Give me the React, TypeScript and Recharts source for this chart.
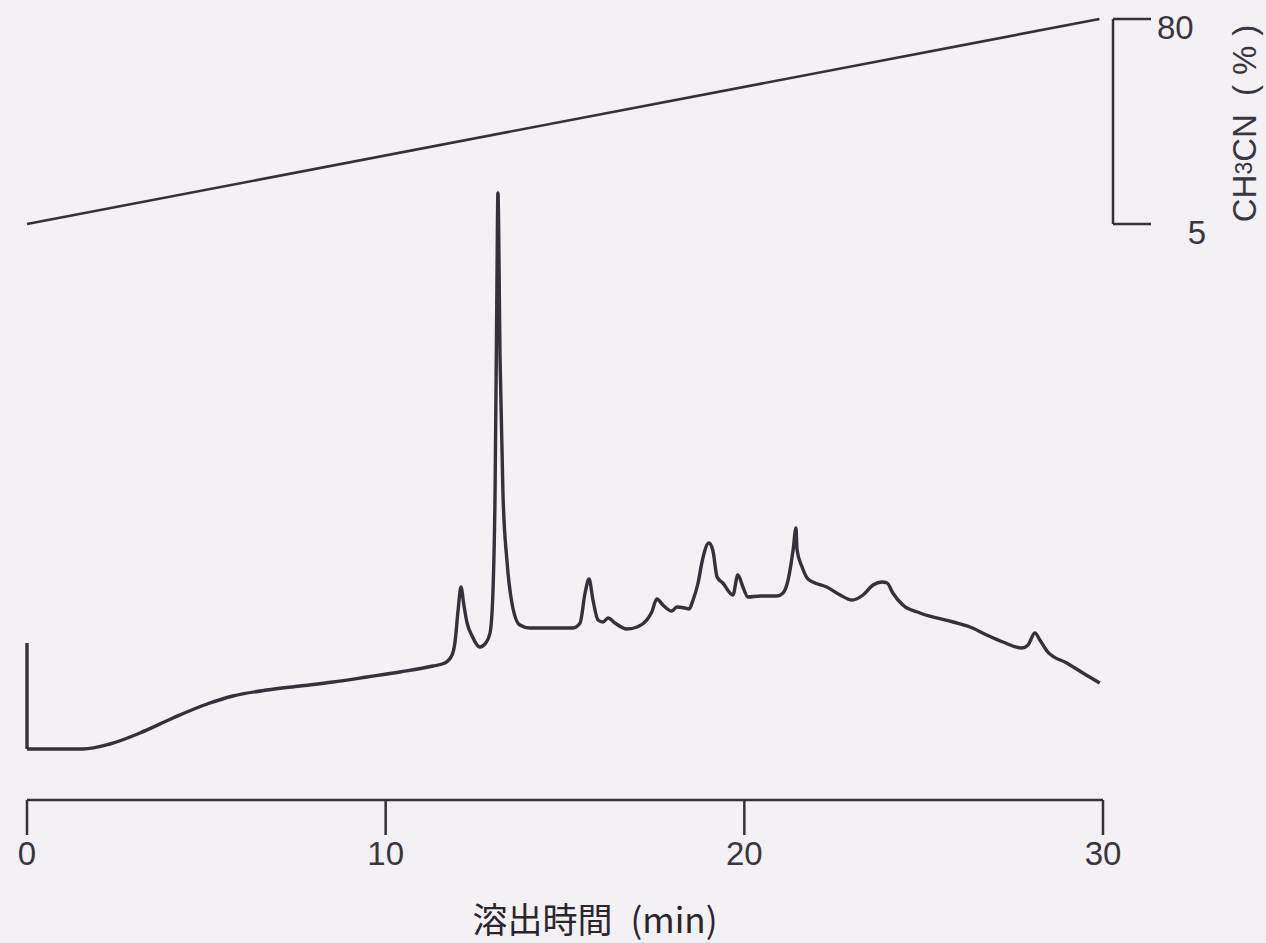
import React from 'react';
import { LineChart, Line, XAxis, YAxis, Label } from 'recharts';

// Elution time axis
const timeTicks = [0, 10, 20, 30];
const timeLabelMain = '溶出時間';
const timeLabelUnit = '(min)';

// CH3CN gradient (%)
const gradientTicks = [5, 80];
const gradientTime = [0, 29.9];
const gradientPct = [5, 80];

// Injection marker at t = 0 (vertical pen stroke)
const injectTime = [0, 0];
const injectSignal = [15.7, 5.1];

// Chromatogram trace (detector signal, arbitrary units)
const chromTime = [
  0, 1.56, 2.31, 3.15, 4.07, 5.02, 5.74, 6.69, 7.61, 8.53, 9.48, 10.4, 11.32, 11.65, 11.85, 11.93, 12.02,
  12.1, 12.18, 12.27, 12.41, 12.63, 12.79, 12.91, 12.99, 13.05, 13.1, 13.13, 13.19, 13.27, 13.38, 13.52,
  13.74, 14.02, 15.22, 15.42, 15.56, 15.67, 15.78, 15.92, 16.06, 16.2, 16.39, 16.73, 17.01, 17.28, 17.42,
  17.56, 17.73, 17.98, 18.12, 18.34, 18.46, 18.57, 18.71, 18.82, 19.01, 19.12, 19.24, 19.4, 19.68, 19.82,
  19.96, 20.1, 20.44, 20.91, 21.08, 21.22, 21.36, 21.44, 21.47, 21.61, 21.75, 21.91, 22.3, 22.67, 23.0,
  23.31, 23.59, 23.84, 23.98, 24.14, 24.42, 24.9, 25.82, 26.29, 26.76, 27.21, 27.74, 27.91, 28.1, 28.24,
  28.46, 28.99, 29.44, 29.91,
];
const chromSignal = [
  5.1, 5.1, 5.6, 6.7, 8.2, 9.6, 10.4, 11.0, 11.4, 11.8, 12.3, 12.8, 13.4, 13.7, 14.5, 15.7, 19.0,
  21.3, 19.5, 17.7, 16.4, 15.3, 15.7, 16.7, 20.7, 30.7, 50.7, 60.7, 44.0, 30.7, 24.0, 19.7,
  17.5, 17.2, 17.2, 17.7, 20.7, 22.1, 20.0, 18.0, 17.8, 18.2, 17.7, 17.1, 17.3, 18.0, 18.8,
  20.1, 19.5, 18.9, 19.3, 19.2, 19.1, 20.0, 21.7, 23.8, 25.7, 25.0, 22.3, 21.7, 20.5, 22.5,
  21.3, 20.3, 20.4, 20.4, 20.7, 22.0, 25.0, 27.2, 25.0, 23.3, 22.2, 21.8, 21.3, 20.5, 20.0,
  20.5, 21.5, 21.8, 21.7, 20.7, 19.5, 18.7, 17.8, 17.3, 16.5, 15.8, 15.2, 15.5, 16.7,
  16.0, 14.8, 13.7, 12.7, 11.7,
];

const gradientData = gradientTime.map((t, i) => ({ t, g: gradientPct[i] }));
const chromData = chromTime.map((t, i) => ({ t, v: chromSignal[i] }));
const injectData = injectTime.map((t, i) => ({ t, v: injectSignal[i] }));

const INK = '#35303a';
const NUM_FONT = '"Liberation Sans", Arial, sans-serif';

const GradientTick = (props: any) => {
  const { x, y, payload } = props;
  const isTop = payload.value === 80;
  return (
    <text
      x={isTop ? x + 4 : x + 53}
      y={y + 8}
      textAnchor={isTop ? 'start' : 'end'}
      dominantBaseline="central"
      fontSize={33}
      fontFamily={NUM_FONT}
      fill="#3a3640"
    >
      {payload.value}
    </text>
  );
};

const GradientLabel = (props: any) => {
  const vb = props.viewBox || { x: 1113, y: 19, width: 153, height: 205 };
  const cx = vb.x + 131;
  const cy = vb.y + vb.height / 2 + 2;
  return (
    <text
      x={cx}
      y={cy}
      transform={`rotate(-90, ${cx}, ${cy})`}
      textAnchor="middle"
      dominantBaseline="central"
      fontSize={33}
      fontFamily={NUM_FONT}
      fill="#3a3640"
    >
      CH<tspan fontSize={23}>3</tspan>CN<tspan dx={18}>(</tspan>
      <tspan dx={10}>%</tspan>
      <tspan dx={10}>)</tspan>
    </text>
  );
};

const TimeLabel = (props: any) => {
  const vb = props.viewBox || { x: 27, y: 800, width: 1076, height: 143 };
  const cx = vb.x + vb.width / 2 + 30;
  return (
    <text
      x={cx}
      y={933}
      textAnchor="middle"
      fontSize={35}
      fontFamily={'"Noto Sans CJK JP", "Noto Sans", sans-serif'}
      fill="#2a262e"
    >
      {timeLabelMain}
      <tspan dx={18}>{timeLabelUnit}</tspan>
    </text>
  );
};

export default function App() {
  return (
    <div
      style={{
        position: 'absolute',
        left: 0,
        top: 0,
        width: 1266,
        height: 943,
        background: '#f3f1f4',
        overflow: 'hidden',
      }}
    >
      <div style={{ position: 'absolute', left: 0, top: 0 }}>
        <LineChart
          width={1266}
          height={943}
          margin={{ top: 100, right: 163, bottom: 0, left: 27 }}
        >
          <XAxis
            dataKey="t"
            type="number"
            domain={[0, 30]}
            ticks={timeTicks}
            interval={0}
            height={143}
            tickSize={35}
            tickMargin={7}
            axisLine={{ stroke: INK, strokeWidth: 2.5 }}
            tickLine={{ stroke: INK, strokeWidth: 2.5 }}
            tick={{ fontSize: 33, fill: '#3a3640', fontFamily: NUM_FONT }}
            allowDuplicatedCategory={false}
          >
            <Label content={<TimeLabel />} />
          </XAxis>
          <YAxis hide type="number" domain={[0, 70]} />
          <Line
            data={injectData}
            type="linear"
            dataKey="v"
            stroke={INK}
            strokeWidth={3.4}
            dot={false}
            isAnimationActive={false}
          />
          <Line
            data={chromData}
            type="monotone"
            dataKey="v"
            stroke={INK}
            strokeWidth={3.4}
            strokeLinejoin="round"
            dot={false}
            isAnimationActive={false}
          />
        </LineChart>
      </div>
      <div style={{ position: 'absolute', left: 0, top: 0 }}>
        <LineChart
          width={1266}
          height={260}
          data={gradientData}
          margin={{ top: 19, right: 0, bottom: 36, left: 27 }}
        >
          <XAxis dataKey="t" type="number" domain={[0, 30.28]} hide />
          <YAxis
            orientation="right"
            type="number"
            domain={[5, 80]}
            ticks={gradientTicks}
            interval={0}
            width={153}
            tickSize={38}
            tickMargin={2}
            axisLine={{ stroke: INK, strokeWidth: 2.5 }}
            tickLine={{ stroke: INK, strokeWidth: 2.5 }}
            tick={<GradientTick />}
          >
            <Label content={<GradientLabel />} />
          </YAxis>
          <Line
            type="linear"
            dataKey="g"
            stroke={INK}
            strokeWidth={2.6}
            dot={false}
            isAnimationActive={false}
          />
        </LineChart>
      </div>
    </div>
  );
}
